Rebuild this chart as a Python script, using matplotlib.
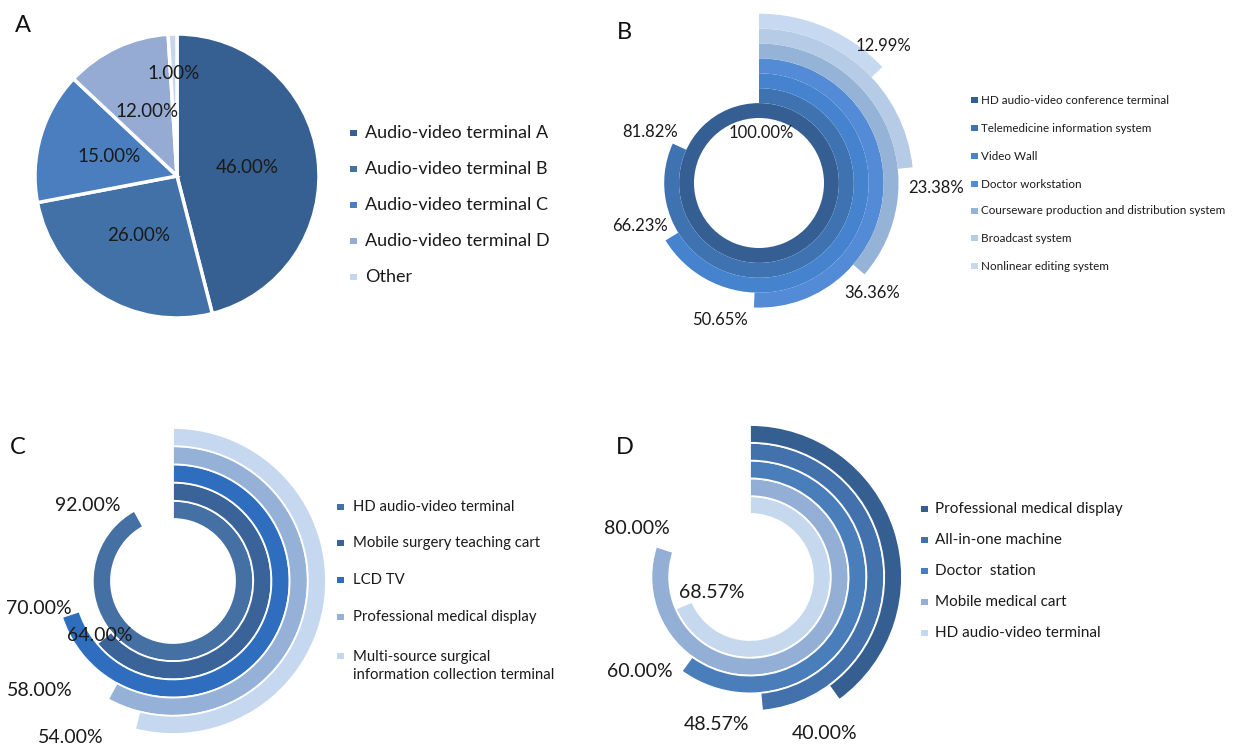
import numpy as np
import matplotlib
matplotlib.use("Agg")
import matplotlib.pyplot as plt
from matplotlib.patches import Rectangle

plt.rcParams['font.family'] = ['Lato', 'DejaVu Sans']

# ---------------- data ----------------
# Panel A: share of audio-video terminals
a_labels = ["Audio-video terminal A", "Audio-video terminal B", "Audio-video terminal C",
            "Audio-video terminal D", "Other"]
a_values = [46.00, 26.00, 15.00, 12.00, 1.00]

# Panel B: radial bars, inner ring first
b_labels = ["HD audio-video conference terminal", "Telemedicine information system", "Video Wall",
            "Doctor workstation", "Courseware production and distribution system",
            "Broadcast system", "Nonlinear editing system"]
b_values = [100.00, 81.82, 66.23, 50.65, 36.36, 23.38, 12.99]

# Panel C: radial bars, inner ring first
c_labels = ["HD audio-video terminal", "Mobile surgery teaching cart", "LCD TV",
            "Professional medical display",
            "Multi-source surgical\ninformation collection terminal"]
c_values = [92.00, 64.00, 70.00, 58.00, 54.00]

# Panel D: radial bars, inner ring first (legend lists outer ring first)
d_labels = ["HD audio-video terminal", "Mobile medical cart", "Doctor  station",
            "All-in-one machine", "Professional medical display"]
d_values = [68.57, 80.00, 60.00, 48.57, 40.00]

# ---------------- styling ----------------
a_colors = ['#376092', '#4271A8', '#4A7EBF', '#95ABD3', '#C8D6EC']
b_colors = ['#355F93', '#3E72B0', '#4583CF', '#548BD6', '#95B3D7', '#B6CBE5', '#C6D9F1']
c_colors = ['#4570A4', '#3A6399', '#2F6EBF', '#95B1D7', '#C5D8EF']
d_colors = ['#C5D8EE', '#93AFD5', '#4A7EBB', '#4271AC', '#365F91']

W, H = 1234, 749
fig = plt.figure(figsize=(W / 100, H / 100), dpi=100)
fig.patch.set_facecolor('white')


def fig_box(x0, y0, w, h):
    """Pixel box (top-left origin) -> figure fraction rect."""
    return [x0 / W, 1 - (y0 + h) / H, w / W, h / H]


def fig_xy(x, y):
    return x / W, 1 - y / H


def legend_rows(x_sq, x_txt, y_rows, colors, labels, size, sq=6.5, line_px=20):
    """Key squares + labels; y_rows gives the centre of each entry's first line."""
    for y, col, lab in zip(y_rows, colors, labels):
        n_lines = lab.count("\n") + 1
        fig.patches.append(Rectangle(fig_xy(x_sq, y + sq / 2), sq / W, sq / H,
                                     transform=fig.transFigure, facecolor=col,
                                     edgecolor='none'))
        y_mid = y + (n_lines - 1) * line_px / 2
        fx, fy = fig_xy(x_txt, y_mid)
        fig.text(fx, fy, lab, fontsize=size, color='#1a1a1a', ha='left', va='center',
                 linespacing=line_px / (size * 100 / 72) if n_lines > 1 else 1.2)


def radial_panel(cx, cy, r_in, ring_w, values, colors, offsets, lab_size, gap_lw):
    n = len(values)
    r_out = r_in + ring_w * n
    ax = fig.add_axes(fig_box(cx - r_out, cy - r_out, 2 * r_out, 2 * r_out),
                      projection='polar')
    ax.set_theta_zero_location('N')
    ax.set_theta_direction(-1)
    radii = r_in + ring_w * (np.arange(n) + 0.5)
    widths = np.deg2rad(np.array(values) / 100.0 * 360.0)
    ax.barh(radii, widths, left=0, height=ring_w, color=colors,
            edgecolor='white' if gap_lw > 0 else 'none', linewidth=gap_lw,
            align='center', clip_on=False)
    ax.set_ylim(0, r_out)
    ax.set_xlim(0, 2 * np.pi)
    ax.axis('off')
    ax.patch.set_visible(False)
    for v, r, w, (dx, dy) in zip(values, radii, widths, offsets):
        ax.annotate(f"{v:.2f}%", xy=(w, r), xytext=(dx, -dy),
                    textcoords='offset pixels', ha='center', va='center',
                    fontsize=lab_size, color='#1a1a1a', annotation_clip=False)
    return ax


# ---------------- panel A: pie ----------------
pcx, pcy, pr = 177, 176, 142
m = 1.05
axA = fig.add_axes(fig_box(pcx - pr * m, pcy - pr * m, 2 * pr * m, 2 * pr * m))
wedges, texts, autotexts = axA.pie(
    a_values, colors=a_colors, startangle=90, counterclock=False,
    autopct=lambda p: f"{p:.2f}%", pctdistance=0.5,
    wedgeprops=dict(edgecolor='white', linewidth=2.5),
    textprops=dict(fontsize=13.5, color='#1a1a1a'))
# the thin "Other" slice gets its label pushed outward
w_last = wedges[-1]
ang = np.deg2rad((w_last.theta1 + w_last.theta2) / 2)
autotexts[-1].set_position((0.72 * np.cos(ang), 0.72 * np.sin(ang)))
axA.set_xlim(-m, m)
axA.set_ylim(-m, m)
axA.set_aspect('equal')
axA.axis('off')
legend_rows(350, 365, [133, 169, 205, 241, 277], a_colors, a_labels, 13)

# ---------------- panel B ----------------
b_offsets = [(2, 22.5), (-29.6, -14.7), (-31.9, -10.5), (-34.2, 19.9),
             (13.2, 23.5), (30.8, 19.9), (6.1, -26.1)]
radial_panel(759, 183, 65, 14.9, b_values, b_colors, b_offsets, 12, 0)
legend_rows(971, 981, [100, 128, 156, 184, 211, 238, 266], b_colors, b_labels, 8.4, sq=6.5)

# ---------------- panel C ----------------
c_offsets = [(-51, -13), (-4, -2), (-32, -6), (-73, -1), (-66, 17)]
radial_panel(173, 581, 62, 18.2, c_values, c_colors, c_offsets, 14, 1.3)
legend_rows(337, 353, [507, 543, 580, 617, 656], c_colors, c_labels, 10.7, line_px=20)

# ---------------- panel D ----------------
d_offsets = [(28, -13), (-28, -21), (-47, 8), (-45, 23), (-10, 41)]
radial_panel(750, 577, 63, 17.8, d_values, d_colors, d_offsets, 14, 1.3)
legend_rows(921, 935, [509, 540, 571, 602, 633], d_colors[::-1], d_labels[::-1], 11)

# ---------------- panel letters ----------------
for letter, (x, y) in zip("ABCD", [(23, 32), (624, 39), (18, 454), (625, 454)]):
    fx, fy = fig_xy(x, y)
    fig.text(fx, fy, letter, fontsize=17, ha='center', va='baseline', color='#111111')

fig.savefig("out.png", dpi=100, facecolor='white')
